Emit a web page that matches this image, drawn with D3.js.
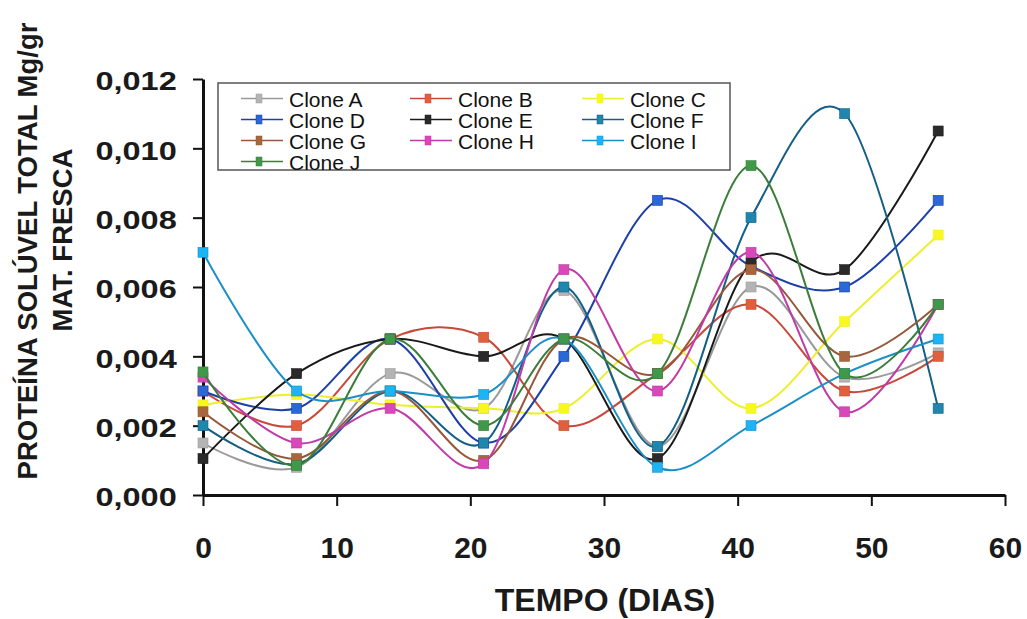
<!DOCTYPE html>
<html>
<head>
<meta charset="utf-8">
<script src="https://cdn.jsdelivr.net/npm/d3@7"></script>
<style>
  html, body { margin: 0; padding: 0; background: #fff; }
  svg { display: block; }
  text { font-family: Arial, "Liberation Sans", sans-serif; }
</style>
</head>
<body>
<svg id="chart" width="1027" height="619"></svg>
<script>
// Sampling days
const days = [0, 7, 14, 21, 27, 34, 41, 48, 55];

// Soluble protein per clone (mg/g fresh matter)
const cloneA = [0.0015, 0.0008, 0.0035, 0.0025, 0.0059, 0.0014, 0.0060, 0.0034, 0.0041];
const cloneB = [0.0030, 0.0020, 0.0045, 0.00455, 0.0020, 0.0035, 0.0055, 0.0030, 0.0040];
const cloneC = [0.0026, 0.0029, 0.0026, 0.0025, 0.0025, 0.0045, 0.0025, 0.0050, 0.0075];
const cloneD = [0.0030, 0.0025, 0.0045, 0.0015, 0.0040, 0.0085, 0.0066, 0.0060, 0.0085];
const cloneE = [0.00105, 0.0035, 0.0045, 0.0040, 0.0045, 0.00105, 0.0067, 0.0065, 0.0105];
const cloneF = [0.0020, 0.0009, 0.0030, 0.0015, 0.0060, 0.0014, 0.0080, 0.0110, 0.0025];
const cloneG = [0.0024, 0.00105, 0.0030, 0.0010, 0.0045, 0.0035, 0.0065, 0.0040, 0.0055];
const cloneH = [0.0034, 0.0015, 0.0025, 0.0009, 0.0065, 0.0030, 0.0070, 0.0024, 0.0055];
const cloneI = [0.0070, 0.0030, 0.0030, 0.0029, 0.0045, 0.0008, 0.0020, 0.0035, 0.0045];
const cloneJ = [0.00355, 0.00085, 0.0045, 0.0020, 0.0045, 0.0035, 0.0095, 0.0035, 0.0055];

const seriesNames = ["Clone A", "Clone B", "Clone C", "Clone D", "Clone E",
                     "Clone F", "Clone G", "Clone H", "Clone I", "Clone J"];
const seriesValues = [cloneA, cloneB, cloneC, cloneD, cloneE,
                      cloneF, cloneG, cloneH, cloneI, cloneJ];

// Axis ticks
const xTicks = [0, 10, 20, 30, 40, 50, 60];
const yTicks = [0, 0.002, 0.004, 0.006, 0.008, 0.010, 0.012];

// Line and marker colours per clone
const lineColors   = ["#9a9a9a", "#c8483a", "#eeee30", "#1c3fa8", "#1a1a1a",
                      "#145f86", "#96583a", "#c03aa8", "#1a8fc8", "#3a7e3a"];
const markerColors = ["#b4b4b4", "#e0603e", "#f8f820", "#2a68d8", "#2a2a2a",
                      "#1f86ae", "#a8663e", "#d848b8", "#1cb4f4", "#40984a"];

const svg = d3.select("#chart");

const x = d3.scaleLinear().domain([0, 60]).range([203, 1005]);
const y = d3.scaleLinear().domain([0, 0.012]).range([495, 79]);

const fmt = v => d3.format(".3f")(v).replace(".", ",");

// Y axis
const yAxis = svg.append("g")
  .attr("transform", `translate(${x(0)},0)`)
  .call(d3.axisLeft(y).tickValues(yTicks).tickFormat(fmt).tickSize(10).tickSizeOuter(0));
yAxis.select(".domain").attr("stroke", "#111").attr("stroke-width", 3);
yAxis.selectAll(".tick line").attr("stroke", "#111").attr("stroke-width", 2);
yAxis.selectAll(".tick text")
  .attr("x", -21)
  .attr("dy", "0.42em")
  .attr("transform", "scale(1.25,1)")
  .attr("fill", "#1a1a1a")
  .style("font-size", "26px")
  .style("font-weight", "bold");

// X axis
const xAxis = svg.append("g")
  .attr("transform", `translate(0,${y(0)})`)
  .call(d3.axisBottom(x).tickValues(xTicks).tickFormat(d3.format("d")).tickSize(11).tickSizeOuter(0));
xAxis.select(".domain").attr("stroke", "#111").attr("stroke-width", 3);
xAxis.selectAll(".tick line").attr("stroke", "#111").attr("stroke-width", 2);
xAxis.selectAll(".tick text")
  .attr("y", 63)
  .attr("dy", 0)
  .attr("fill", "#1a1a1a")
  .style("font-size", "30px")
  .style("font-weight", "bold");

// Axis titles
svg.append("text")
  .attr("x", 605).attr("y", 611)
  .attr("text-anchor", "middle")
  .attr("fill", "#1a1a1a")
  .style("font-size", "32px").style("font-weight", "bold")
  .text("TEMPO (DIAS)");

svg.append("text")
  .attr("transform", "translate(37,251) rotate(-90)")
  .attr("text-anchor", "middle")
  .attr("fill", "#1a1a1a")
  .style("font-size", "27.5px").style("font-weight", "bold")
  .text("PROTEÍNA SOLÚVEL TOTAL Mg/gr");

svg.append("text")
  .attr("transform", "translate(72,240) rotate(-90)")
  .attr("text-anchor", "middle")
  .attr("fill", "#1a1a1a")
  .style("font-size", "27.5px").style("font-weight", "bold")
  .text("MAT. FRESCA");

// Smoothed series lines with square markers
const line = d3.line()
  .x((d, i) => x(days[i]))
  .y(d => y(d))
  .curve(d3.curveCardinal.tension(0));

const ms = 10;
seriesValues.forEach((vals, k) => {
  const g = svg.append("g");
  g.append("path")
    .datum(vals)
    .attr("d", line)
    .attr("fill", "none")
    .attr("stroke", lineColors[k])
    .attr("stroke-width", 2);
  g.selectAll("rect")
    .data(vals)
    .join("rect")
    .attr("x", (d, i) => x(days[i]) - ms / 2)
    .attr("y", d => y(d) - ms / 2)
    .attr("width", ms)
    .attr("height", ms)
    .attr("fill", markerColors[k])
    .attr("stroke", lineColors[k])
    .attr("stroke-width", 0.6);
});

// Legend
const lgX = 218, lgY = 83, lgW = 512, lgH = 87;
svg.append("clipPath").attr("id", "legend-clip")
  .append("rect").attr("x", lgX).attr("y", lgY).attr("width", lgW).attr("height", lgH);

svg.append("rect")
  .attr("x", lgX).attr("y", lgY).attr("width", lgW).attr("height", lgH)
  .attr("fill", "#fff").attr("stroke", "#555").attr("stroke-width", 1.5);

const legend = svg.append("g").attr("clip-path", "url(#legend-clip)");
const colStart = [241, 410, 582];
const rowBase = [106.5, 127.5, 148.5, 169.5];
seriesNames.forEach((name, k) => {
  const col = k % 3, row = Math.floor(k / 3);
  const lx = colStart[col], ly = rowBase[row] - 8;
  const item = legend.append("g");
  item.append("line")
    .attr("x1", lx).attr("x2", lx + 42).attr("y1", ly).attr("y2", ly)
    .attr("stroke", lineColors[k]).attr("stroke-width", 1.5);
  item.append("rect")
    .attr("x", lx + 15).attr("y", ly - 4.5).attr("width", 6).attr("height", 9)
    .attr("fill", markerColors[k]).attr("stroke", lineColors[k]).attr("stroke-width", 0.5);
  item.append("text")
    .attr("x", lx + 48).attr("y", rowBase[row])
    .attr("fill", "#111")
    .style("font-size", "21px")
    .text(name);
});
</script>
</body>
</html>
